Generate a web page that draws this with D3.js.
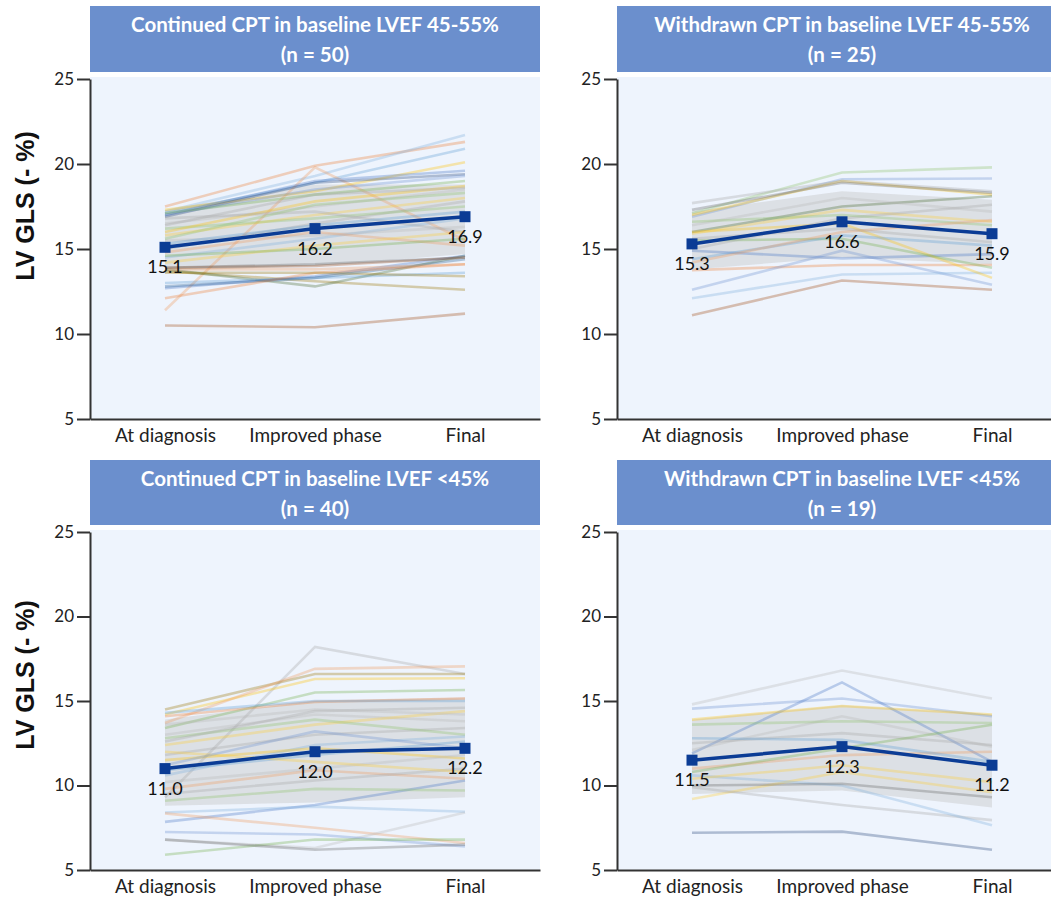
<!DOCTYPE html>
<html lang="en">
<head>
<meta charset="UTF-8">
<title>LV GLS by CPT group</title>
<script src="https://d3js.org/d3.v7.min.js"></script>
<style>
  body { margin: 0; background: #fff; }
  svg { display: block; }
  .tick text { font-family: Lato, "Open Sans", sans-serif; fill: #222; }
  .axis path, .axis line { stroke: #333; stroke-width: 2px; }
  .head text { font-family: Lato, "Open Sans", sans-serif; font-weight: bold; fill: #fff; font-size: 20.5px; }
  .ytitle { font-family: "Liberation Sans", Arial, sans-serif; font-weight: bold; font-size: 25px; fill: #111; }
  .meanlab { font-family: Lato, "Open Sans", sans-serif; font-size: 18px; fill: #111; }
</style>
</head>
<body>
<svg id="chart" width="1051" height="905"></svg>
<script>
// ---- data ----
var categories = ["At diagnosis", "Improved phase", "Final"];
var titles = [
  "Continued CPT in baseline LVEF 45-55%",
  "Withdrawn CPT in baseline LVEF 45-55%",
  "Continued CPT in baseline LVEF <45%",
  "Withdrawn CPT in baseline LVEF <45%"
];
var groupSizes = [50, 25, 40, 19];
var meanValues = [[15.1, 16.2, 16.9], [15.3, 16.6, 15.9], [11.0, 12.0, 12.2], [11.5, 12.3, 11.2]];
var bandUpper = [[17.3, 18.8, 18.8], [17.2, 18.4, 17.9], [13.9, 15.0, 15.2], [13.9, 14.75, 14.2]];
var bandLower = [[13.7, 14.0, 14.7], [13.8, 14.5, 14.1], [8.8, 9.0, 9.3], [9.5, 9.7, 8.7]];
var yTicks = [5, 10, 15, 20, 25];

// patient lines: [colour index, diagnosis, improved, final]
var patientsA = [
  [1, 17.5, 19.9, 21.3], [12, 17.2, 19.3, 21.7], [0, 17.1, 18.9, 20.9], [13, 11.4, 19.8, 15.5],
  [3, 17.3, 18.4, 20.1], [4, 17.0, 19.0, 19.6], [10, 16.9, 18.9, 19.4], [16, 17.0, 18.5, 19.3],
  [5, 17.1, 18.2, 19.0], [7, 10.5, 10.4, 11.2], [9, 13.7, 13.1, 12.6], [11, 13.8, 12.8, 14.6],
  [0, 13.0, 13.3, 13.6], [4, 12.7, 13.4, 14.6], [6, 12.8, 13.3, 14.4], [1, 12.1, 13.6, 14.1],
  [7, 13.9, 14.0, 14.5], [9, 13.6, 13.6, 13.4], [13, 13.8, 13.8, 14.1], [8, 13.9, 14.1, 14.5],
  [14, 16.5, 17.5, 18.5], [15, 15.8, 17.0, 18.0], [2, 15.0, 16.5, 17.8], [17, 16.2, 16.8, 17.5],
  [12, 14.5, 15.6, 16.8], [3, 16.0, 17.8, 18.7], [14, 15.5, 15.8, 16.3], [13, 14.8, 16.0, 15.2],
  [2, 16.8, 17.2, 16.0], [15, 14.2, 15.2, 16.0], [0, 15.3, 16.4, 17.2], [5, 14.6, 15.0, 15.6],
  [2, 16.4, 18.2, 18.6], [17, 15.6, 17.6, 18.3]
];
var patientsB = [
  [17, 17.1, 19.5, 19.8], [16, 16.9, 19.1, 19.15], [3, 17.0, 19.0, 18.2], [2, 17.7, 19.0, 18.4],
  [8, 17.3, 18.9, 18.3], [11, 16.0, 17.5, 18.1], [4, 14.9, 14.45, 14.7], [1, 13.76, 14.06, 14.06],
  [16, 12.6, 14.9, 12.9], [12, 12.1, 13.5, 13.6], [7, 11.1, 13.15, 12.6], [3, 16.0, 16.5, 13.3],
  [5, 15.5, 15.6, 13.9], [14, 16.4, 18.0, 17.2], [15, 15.9, 17.3, 16.6], [2, 15.0, 16.8, 17.6],
  [0, 14.4, 15.8, 15.2], [17, 16.6, 17.0, 16.4], [13, 14.2, 16.0, 16.7], [2, 15.6, 16.2, 15.4]
];
var patientsC = [
  [2, 9.3, 18.2, 16.6], [9, 14.5, 16.6, 16.6], [3, 14.2, 16.3, 16.35], [13, 13.7, 16.9, 17.05],
  [5, 13.4, 15.5, 15.65], [1, 14.1, 14.95, 15.15], [0, 14.3, 15.0, 15.0], [4, 7.85, 8.85, 10.3],
  [12, 8.4, 8.75, 8.45], [13, 8.35, 7.5, 6.6], [14, 6.8, 6.3, 8.4], [16, 7.25, 7.1, 6.4],
  [5, 5.9, 6.8, 6.8], [8, 6.8, 6.2, 6.5], [14, 13.0, 14.2, 13.8], [15, 12.4, 13.6, 14.4],
  [2, 11.8, 13.0, 13.4], [17, 12.8, 13.9, 13.0], [12, 10.6, 12.4, 12.9], [3, 11.5, 12.2, 11.6],
  [14, 10.2, 11.0, 11.8], [13, 9.8, 10.9, 10.4], [2, 9.5, 10.3, 11.0], [0, 10.9, 11.8, 12.6],
  [15, 12.0, 11.4, 10.8], [17, 9.1, 9.8, 9.7], [2, 12.6, 14.4, 14.6], [16, 11.2, 13.2, 12.2],
  [14, 13.6, 14.5, 14.2]
];
var patientsD = [
  [14, 14.8, 16.8, 15.15], [16, 14.55, 15.15, 14.1], [4, 11.9, 16.1, 11.4], [3, 13.9, 14.7, 14.2],
  [15, 9.2, 10.8, 9.6], [2, 9.9, 8.85, 7.95], [12, 10.6, 10.0, 7.65], [10, 7.2, 7.27, 6.2],
  [14, 12.1, 14.1, 12.3], [17, 13.6, 13.8, 13.7], [2, 12.5, 13.1, 12.4], [13, 11.0, 11.8, 12.0],
  [15, 10.4, 11.2, 10.2], [0, 12.8, 12.7, 11.4], [5, 10.8, 12.2, 13.6], [8, 10.0, 10.1, 9.3]
];
var patientSets = [patientsA, patientsB, patientsC, patientsD];

var palette = ["#5B9BD5", "#ED7D31", "#A5A5A5", "#FFC000", "#4472C4", "#70AD47", "#255E91", "#9E480E",
  "#636363", "#997300", "#264478", "#43682B", "#7CAFDD", "#F1975A", "#B7B7B7", "#FFCD33", "#698ED0", "#8CC168"];

// ---- layout ----
var panels = [
  {x0: 90, headTop: 6, headBot: 72, yTop: 79, yBot: 419},
  {x0: 617, headTop: 6, headBot: 72, yTop: 79, yBot: 419},
  {x0: 90, headTop: 460, headBot: 525, yTop: 532, yBot: 870},
  {x0: 617, headTop: 460, headBot: 525, yTop: 532, yBot: 870}
];
var plotW = 450;

var svg = d3.select("#chart");

panels.forEach(function (p, i) {
  var g = svg.append("g");
  var x = d3.scalePoint().domain(categories).range([p.x0, p.x0 + plotW]).padding(0.5);
  var y = d3.scaleLinear().domain([5, 25]).range([p.yBot, p.yTop]);

  // header
  var head = g.append("g").attr("class", "head");
  head.append("rect")
    .attr("x", p.x0).attr("y", p.headTop)
    .attr("width", plotW).attr("height", p.headBot - p.headTop)
    .attr("fill", "#6b8fcd");
  var cx = p.x0 + plotW / 2;
  head.append("text").attr("x", cx).attr("y", p.headTop + 26).attr("text-anchor", "middle").text(titles[i]);
  head.append("text").attr("x", cx).attr("y", p.headTop + 56).attr("text-anchor", "middle").text("(n = " + groupSizes[i] + ")");

  // plot background
  g.append("rect")
    .attr("x", p.x0).attr("y", p.yTop - 2)
    .attr("width", plotW).attr("height", p.yBot - p.yTop + 2)
    .attr("fill", "#eef4fd");

  // band
  var bandPts = categories.map(function (c, k) { return [x(c), y(bandUpper[i][k])]; })
    .concat(categories.slice().reverse().map(function (c, k) { return [x(c), y(bandLower[i][2 - k])]; }));
  g.append("path")
    .attr("d", d3.line()(bandPts) + "Z")
    .attr("fill", "#c4c4c4").attr("fill-opacity", 0.42);

  // patient lines
  var line = d3.line().x(function (d) { return x(d[0]); }).y(function (d) { return y(d[1]); });
  g.append("g").selectAll("path")
    .data(patientSets[i])
    .enter().append("path")
    .attr("d", function (d) { return line(categories.map(function (c, k) { return [c, d[k + 1]]; })); })
    .attr("fill", "none")
    .attr("stroke", function (d) { return palette[d[0]]; })
    .attr("stroke-opacity", 0.32)
    .attr("stroke-width", 2.6);

  // axes
  g.append("g").attr("class", "axis")
    .attr("transform", "translate(0," + p.yBot + ")")
    .call(d3.axisBottom(x).tickSize(0).tickPadding(10))
    .call(function (a) { a.selectAll("text").style("font-size", "19px"); });
  g.append("g").attr("class", "axis")
    .attr("transform", "translate(" + p.x0 + ",0)")
    .call(d3.axisLeft(y).tickValues(yTicks).tickSize(13).tickSizeOuter(0).tickPadding(3))
    .call(function (a) { a.selectAll("text").style("font-size", "17px"); });

  // mean line
  var meanPts = categories.map(function (c, k) { return [c, meanValues[i][k]]; });
  g.append("path")
    .attr("d", line(meanPts))
    .attr("fill", "none").attr("stroke", "#0b3c95").attr("stroke-width", 3.5);
  g.selectAll(".mk").data(meanPts).enter().append("rect")
    .attr("x", function (d) { return x(d[0]) - 5.5; })
    .attr("y", function (d) { return y(d[1]) - 5.5; })
    .attr("width", 11).attr("height", 11)
    .attr("fill", "#0b3c95");
  g.selectAll(".ml").data(meanPts).enter().append("text")
    .attr("class", "meanlab")
    .attr("x", function (d) { return x(d[0]); })
    .attr("y", function (d) { return y(d[1]) + 26; })
    .attr("text-anchor", "middle")
    .text(function (d) { return d[1].toFixed(1); });
});

// y titles
[206, 675].forEach(function (cy) {
  svg.append("text").attr("class", "ytitle")
    .attr("transform", "translate(34," + cy + ") rotate(-90)")
    .attr("text-anchor", "middle")
    .text("LV GLS (- %)");
});
</script>
</body>
</html>
